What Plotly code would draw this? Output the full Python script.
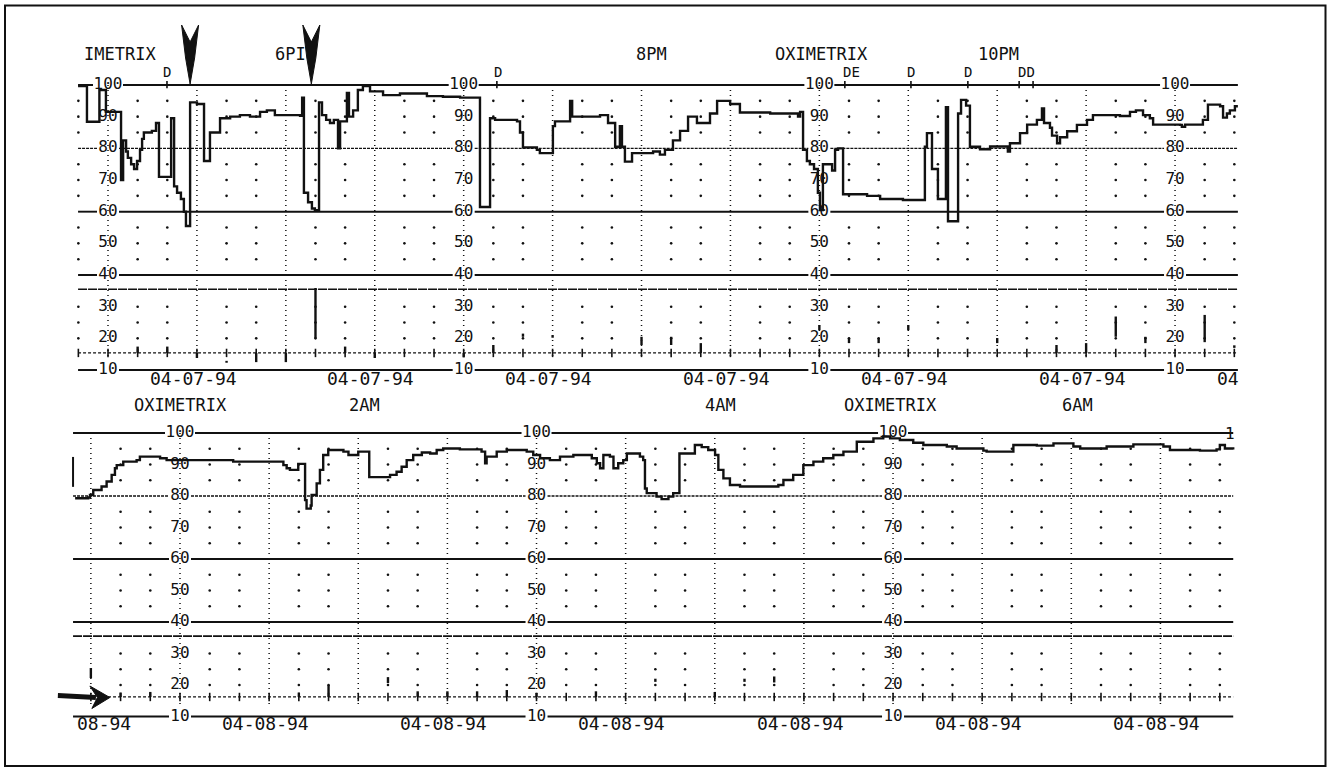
import plotly.graph_objects as go

# ---------------------------------------------------------------- data
# Top strip (04-07-94): minutes after 5:00 PM  /  SpO2 %
top_minutes = [-10.1, -7.1, -2.9, -0.7, 4.4, 5.1, 6.1, 6.7, 7.8, 8.8,
               9.8, 10.8, 11.5, 12.1, 14.8, 16.2, 17.2, 21.3, 22.3, 23.3,
               24.6, 25.6, 26.3, 27.7, 30.0, 32.4, 34.4, 37.8, 41.2, 44.5,
               47.9, 51.3, 53.6, 56.3, 64.8, 65.5, 66.1, 67.5, 68.8, 69.8,
               71.2, 72.2, 73.6, 74.9, 76.2, 77.6, 78.3, 80.6, 81.3, 82.7,
               84.3, 86.0, 88.4, 92.8, 98.5, 107.6, 113.0, 118.8, 125.5, 128.9,
               130.6, 138.0, 139.0, 140.0, 144.7, 145.7, 150.1, 150.8, 155.9, 156.6,
               166.0, 168.7, 171.1, 172.7, 173.4, 174.4, 176.8, 183.9, 186.2, 187.9,
               190.6, 193.0, 195.7, 198.7, 203.1, 205.5, 209.9, 213.2, 223.4, 232.8,
               233.5, 234.5, 235.8, 236.8, 238.2, 239.5, 240.2, 241.2, 244.3, 245.3,
               246.3, 248.0, 256.1, 260.5, 268.2, 275.6, 276.3, 278.0, 280.0, 282.7,
               283.4, 286.8, 287.8, 289.5, 290.8, 294.2, 297.6, 303.6, 304.3, 307.7,
               310.1, 313.4, 315.1, 315.8, 317.8, 318.5, 320.2, 321.2, 323.6, 326.9,
               330.3, 332.3, 341.4, 344.8, 346.8, 349.2, 351.5, 352.6, 361.7, 362.3,
               363.4, 369.4, 371.1, 375.2, 376.2, 377.5, 378.5, 380.2, 381.2]
top_spo2 = [99.7, 88.4, 98.4, 91.5, 70, 82.5, 79, 77, 75, 73.5,
            76, 79.5, 83, 85, 85.5, 88, 71, 89.5, 68, 66,
            64, 60, 55.5, 94.5, 94, 76, 85, 89.5, 90, 90.5,
            90, 91.5, 92, 90.5, 90.3, 96, 66, 63, 61, 60.5,
            94.5, 90.5, 89, 88, 89, 80, 88.5, 97.5, 90, 92,
            98.4, 99.7, 98, 96.8, 97.3, 96.5, 96.3, 96, 61.5, 89.5,
            89, 88.5, 85, 80.3, 79.5, 78.5, 87, 88.5, 95, 90,
            90.5, 88, 80.5, 87, 80.5, 75.8, 78.5, 79, 78, 79.5,
            82.5, 85.5, 90, 88, 91, 95, 94, 91.3, 91, 90,
            91.5, 79.5, 76, 75, 73.5, 66, 60.5, 75, 73, 79.5,
            80, 65.5, 65, 64, 63.7, 80.5, 84.8, 73.5, 64, 93,
            57, 91, 95.3, 93.5, 80.5, 79.7, 80.6, 79, 81.6, 84.8,
            87.5, 89, 92.6, 88, 86.5, 84, 81.6, 83.5, 85.4, 87.4,
            89, 90.5, 90.2, 91.5, 92, 90.5, 89.5, 87.5, 87.4, 86.8,
            87.5, 89, 93.8, 93.3, 89.7, 91, 92, 93.3, 93.3]

# Bottom strip (04-08-94): minutes after 1:00 AM  /  SpO2 %
bottom_minutes = [-35.3, -30.9, -30.3, -29.2, -26.4, -24.7, -23.0, -21.9, -21.3, -19.1,
                  -14.6, -13.5, -6.7, -4.5, 17.9, 34.8, 35.9, 37.0, 39.8, 42.1,
                  42.6, 44.0, 44.3, 46.0, 47.1, 48.2, 49.9, 55.0, 56.7, 60.0,
                  63.7, 70.7, 72.9, 74.6, 76.3, 78.5, 81.4, 84.2, 86.4, 88.6,
                  94.2, 101.5, 102.7, 103.2, 106.6, 110.0, 116.7, 118.9, 121.2, 124.5,
                  127.9, 132.4, 138.6, 140.3, 141.4, 142.5, 144.7, 145.9, 147.5, 149.2,
                  150.4, 154.8, 155.9, 156.5, 157.1, 160.4, 162.1, 164.4, 166.0, 168.1,
                  173.3, 175.6, 177.8, 180.1, 181.2, 182.9, 185.1, 188.5, 201.4, 203.1,
                  206.4, 209.8, 213.2, 216.5, 219.9, 223.3, 227.8, 233.4, 236.7, 239.0,
                  242.3, 246.8, 250.2, 258.1, 261.4, 270.4, 271.5, 280.5, 288.4, 294.0,
                  300.7, 303.0, 311.9, 320.9, 331.0, 333.2, 343.3, 348.9, 350.0, 351.7,
                  354.5]
bottom_spo2 = [79.3, 79.5, 80.3, 81.9, 83.0, 84.6, 86.7, 88.8, 89.8, 90.9,
               91.4, 92.5, 92.0, 91.4, 90.9, 89.8, 88.8, 88.3, 90.2, 78.7,
               76.0, 77.0, 80.3, 84.0, 88.3, 93.0, 94.6, 94.1, 93.0, 94.1,
               86.0, 86.7, 87.7, 89.3, 91.4, 93.0, 93.8, 93.5, 94.6, 95.1,
               94.8, 94.1, 90.4, 92.5, 94.1, 94.6, 94.1, 93.0, 92.0, 91.4,
               92.5, 93.0, 92.0, 90.4, 88.8, 93.0, 92.5, 88.8, 90.4, 91.4,
               93.5, 92.5, 91.4, 82.4, 80.9, 79.8, 79.0, 79.8, 80.9, 93.5,
               96.2, 95.5, 94.6, 93.0, 88.3, 85.6, 83.5, 83.0, 83.5, 85.1,
               86.7, 89.8, 90.9, 92.0, 93.0, 94.1, 97.2, 98.3, 98.9, 98.3,
               97.8, 96.9, 96.2, 95.7, 95.1, 94.4, 94.1, 96.2, 96.0, 96.7,
               95.7, 95.1, 95.7, 96.4, 95.7, 94.6, 94.4, 94.8, 96.2, 95.1,
               94.8]
bottom_lead_minutes = [-36.0, -36.0]
bottom_lead_spo2 = [92.4, 82.9]

# lower channel event marks (minute, low, high)
top_event_minutes = [10, 20, 30, 40, 50, 60, 70, 80, 90, 120, 130, 140, 150, 180,
                     190, 200, 240, 250, 260, 270, 300, 320, 330, 340, 350, 370, 380]
top_event_low = [15.4, 15.4, 13.8, 12.3, 12.5, 12.5, 20.1, 15.4, 13.8, 14.0, 15.4, 20.5, 20.2, 17.9,
                 17.9, 15.4, 22.6, 18.5, 18.5, 22.6, 18.5, 15.4, 15.4, 20.5, 18.5, 18.8, 17.0]
top_event_high = [17.4, 17.4, 15.4, 12.9, 15.4, 15.4, 35.9, 17.4, 15.4, 15.4, 17.9, 21.5, 21.0, 20.5,
                  20.5, 18.5, 24.2, 20.1, 20.1, 24.2, 20.1, 17.9, 18.5, 26.9, 20.5, 27.4, 17.8]
bottom_event_minutes = [-30, -20, -10, 40, 50, 70, 80, 90, 100, 110, 120, 140, 160, 180, 190, 200]
bottom_event_low = [22.2, 16.2, 16.2, 16.2, 16.2, 20.6, 16.2, 16.2, 16.2, 16.2, 16.2, 16.2, 21.0, 16.2, 21.0, 20.8]
bottom_event_high = [25.4, 17.6, 17.8, 17.6, 20.0, 22.5, 18.0, 18.0, 18.0, 18.4, 17.5, 18.0, 22.0, 17.8, 22.0, 22.7]

scale_values = [100, 90, 80, 70, 60, 50, 40, 30, 20, 10]
top_scale_columns = [0, 120, 240, 360]
bottom_scale_columns = [0, 120, 240]

top_headers = ["IMETRIX", "6PI", "8PM", "OXIMETRIX", "10PM"]
top_header_minutes = [-8.8, 61.5, 183.2, 240.7, 300.5]
top_header_anchor = ["left", "center", "center", "center", "center"]
top_marks = ["D", "D", "DE", "D", "D", "DD"]
top_mark_minutes = [19.9, 131.6, 250.9, 270.9, 290.1, 310.0]
top_mark_ticks = [19.9, 131.2, 248.6, 270.9, 290.1, 307.4, 312.1]
top_arrow_minutes = [27.7, 68.6]

bottom_headers = ["OXIMETRIX", "2AM", "4AM", "OXIMETRIX", "6AM"]
bottom_header_minutes = [0.0, 62.0, 182.0, 239.3, 302.0]

top_dates = ["04-07-94"] * 6 + ["04"]
top_date_minutes = [28.7, 88.7, 148.7, 208.7, 268.7, 328.7, 373.5]
bottom_dates = ["08-94"] + ["04-08-94"] * 6
bottom_date_minutes = [-35.3, 28.7, 88.7, 148.7, 208.7, 268.7, 328.7]

# ---------------------------------------------------------------- geometry
W, H = 1327, 767
TOP = dict(px0=108.0, ppm=2.964, py100=85.0, ppu=3.167, d0=0, d1=390,
           xs=-10.1, xe=381.2, base=15.4, xa="x", ya="y")
BOT = dict(px0=180.0, ppm=2.971, py100=433.0, ppu=3.15, d0=390, d1=767,
           xs=-36.0, xe=354.5, base=16.2, xa="x2", ya="y2")
INK = "#111111"
MONO = "DejaVu Sans Mono"


def vpix(g, py):
    return 100 - (py - g["py100"]) / g["ppu"]


def mins(g, px):
    return px / g["ppm"]


fig = go.Figure()


def line_trace(g, xs, ys, width, dash="solid", shape="linear"):
    fig.add_trace(go.Scatter(x=xs, y=ys, mode="lines", xaxis=g["xa"], yaxis=g["ya"],
                             line=dict(color=INK, width=width, dash=dash, shape=shape),
                             hoverinfo="skip", showlegend=False))


def build_strip(g, cols, mx, my, ev_m, ev_lo, ev_hi):
    xs, xe = g["xs"], g["xe"]
    # horizontal reference lines, broken where the scale labels sit
    specs = [(100, "solid", 2.0, 15), (80, "3px,1px", 1.4, 11), (60, "solid", 1.9, 11),
             (40, "solid", 2.0, 11), (35.5, "9px,1px", 1.6, 0), (g["base"], "3px,2px", 1.3, 0),
             (10, "solid", 2.0, 11)]
    for val, dash, wid, gap in specs:
        px_, py_ = [xs], [val]
        if gap:
            for c in cols:
                if xs < c < xe:
                    px_ += [c - mins(g, gap), None, c + mins(g, gap)]
                    py_ += [val, None, val]
        px_.append(xe)
        py_.append(val)
        line_trace(g, px_, py_, wid, dash)
    # heavy dotted verticals every 30 minutes
    vx, vy = [], []
    m = -30
    while m <= xe:
        if m >= xs - 0.5:
            vx += [m, m, None]
            vy += [100, 13.2, None]
        m += 30
    line_trace(g, vx, vy, 1.5, "1px,4px")
    # dot grid every 10 minutes / 5 %
    rows = [95, 90, 85, 75, 70, 65, 55, 50, 45, 30, 25, 20]
    dx, dy = [], []
    m = -40
    while m <= xe:
        if m >= xs - 0.5 and m % 30 != 0:
            for r in rows:
                dx.append(m)
                dy.append(r)
        m += 10
    fig.add_trace(go.Scatter(x=dx, y=dy, mode="markers", xaxis=g["xa"], yaxis=g["ya"],
                             marker=dict(size=2.6, color=INK), hoverinfo="skip", showlegend=False))
    # baseline ticks every 10 minutes
    tx = [m for m in range(-40, 400, 10) if xs - 0.5 <= m <= xe]
    fig.add_trace(go.Scatter(x=tx, y=[g["base"]] * len(tx), mode="markers",
                             xaxis=g["xa"], yaxis=g["ya"],
                             marker=dict(symbol="line-ns", size=6, line=dict(color=INK, width=1.6)),
                             hoverinfo="skip", showlegend=False))
    # scale labels
    lx, ly, lt = [], [], []
    for c in cols:
        for v in scale_values:
            lx.append(c)
            ly.append(v)
            lt.append(str(v))
    fig.add_trace(go.Scatter(x=lx, y=ly, text=lt, mode="text", xaxis=g["xa"], yaxis=g["ya"],
                             textfont=dict(family=MONO, size=16, color=INK),
                             hoverinfo="skip", showlegend=False))
    # lower channel event marks
    ex, ey = [], []
    for m, lo, hi in zip(ev_m, ev_lo, ev_hi):
        ex += [m, m, None]
        ey += [lo, hi, None]
    line_trace(g, ex, ey, 2.4)
    # saturation trace
    line_trace(g, mx, my, 2.4, shape="hv")


build_strip(TOP, top_scale_columns, top_minutes, top_spo2,
            top_event_minutes, top_event_low, top_event_high)
build_strip(BOT, bottom_scale_columns, bottom_minutes, bottom_spo2,
            bottom_event_minutes, bottom_event_low, bottom_event_high)
line_trace(BOT, bottom_lead_minutes, bottom_lead_spo2, 2.0)

# D ticks on the 100 line
mx_, my_ = [], []
for m in top_mark_ticks:
    mx_ += [m, m, None]
    my_ += [99.0, 101.3, None]
line_trace(TOP, mx_, my_, 1.6)

annotations = []


def text(g, s, m, v, size, anchor="center"):
    annotations.append(dict(x=m, y=v, xref=g["xa"], yref=g["ya"], text=s, showarrow=False,
                            xanchor=anchor, yanchor="middle",
                            font=dict(family=MONO, size=size, color=INK)))


for s, m, a in zip(top_headers, top_header_minutes, top_header_anchor):
    text(TOP, s, m, vpix(TOP, 53.5), 17, a)
for s, m in zip(top_marks, top_mark_minutes):
    text(TOP, s, m, vpix(TOP, 71.5), 14)
for s, m in zip(bottom_headers, bottom_header_minutes):
    text(BOT, s, m, vpix(BOT, 405), 17)
for i, (s, m) in enumerate(zip(top_dates, top_date_minutes)):
    text(TOP, s, m, vpix(TOP, 378), 18, "left" if i == len(top_dates) - 1 else "center")
for i, (s, m) in enumerate(zip(bottom_dates, bottom_date_minutes)):
    text(BOT, s, m, vpix(BOT, 723), 18, "left" if i == 0 else "center")
text(BOT, "1", BOT["xe"] - 1.0, 100, 16)

shapes = [dict(type="rect", xref="paper", yref="paper", x0=5 / W, x1=1325.5 / W,
               y0=1 - 766 / H, y1=1 - 5.5 / H, line=dict(color=INK, width=2))]

# hand-drawn arrowheads above the top strip
for t in top_arrow_minutes:
    g = TOP
    pts = [(t - mins(g, 8.5), vpix(g, 25)), (t, vpix(g, 42)), (t + mins(g, 8.5), vpix(g, 25)),
           (t + mins(g, 4.5), vpix(g, 58)), (t, vpix(g, 84)), (t - mins(g, 4.5), vpix(g, 58))]
    path = "M " + " L ".join(f"{x:.3f},{y:.3f}" for x, y in pts) + " Z"
    shapes.append(dict(type="path", xref="x", yref="y", path=path, fillcolor=INK,
                       line=dict(color=INK, width=1), layer="above"))

# hand-drawn arrow pointing at the bottom baseline
g = BOT
tip = -23.6
shapes.append(dict(type="line", xref="x2", yref="y2", x0=tip - mins(g, 52), y0=vpix(g, 695.5),
                   x1=tip - mins(g, 14), y1=vpix(g, 697.5), line=dict(color=INK, width=5)))
pts = [(tip - mins(g, 20), vpix(g, 686)), (tip, vpix(g, 697.5)),
       (tip - mins(g, 18), vpix(g, 708.5)), (tip - mins(g, 12.5), vpix(g, 697.5))]
path = "M " + " L ".join(f"{x:.3f},{y:.3f}" for x, y in pts) + " Z"
shapes.append(dict(type="path", xref="x2", yref="y2", path=path, fillcolor=INK,
                   line=dict(color=INK, width=1), layer="above"))


def axes(g):
    xr = [(0 - g["px0"]) / g["ppm"], (W - g["px0"]) / g["ppm"]]
    yr = [vpix(g, g["d1"]), vpix(g, g["d0"])]
    dom = [1 - g["d1"] / H, 1 - g["d0"] / H]
    xa = dict(range=xr, domain=[0, 1], visible=False, fixedrange=True)
    ya = dict(range=yr, domain=dom, visible=False, fixedrange=True)
    return xa, ya


txa, tya = axes(TOP)
bxa, bya = axes(BOT)
tya["anchor"] = "x"
bxa["anchor"] = "y2"
bya["anchor"] = "x2"

fig.update_layout(width=W, height=H, margin=dict(l=0, r=0, t=0, b=0, pad=0),
                  paper_bgcolor="white", plot_bgcolor="white", showlegend=False,
                  xaxis=txa, yaxis=tya, xaxis2=bxa, yaxis2=bya,
                  annotations=annotations, shapes=shapes)

fig.write_html("out.html",
               config={"displayModeBar": False, "staticPlot": True},
               post_script="document.body.style.margin='0px';"
                           "document.body.style.overflow='hidden';"
                           "document.documentElement.style.overflow='hidden';")
